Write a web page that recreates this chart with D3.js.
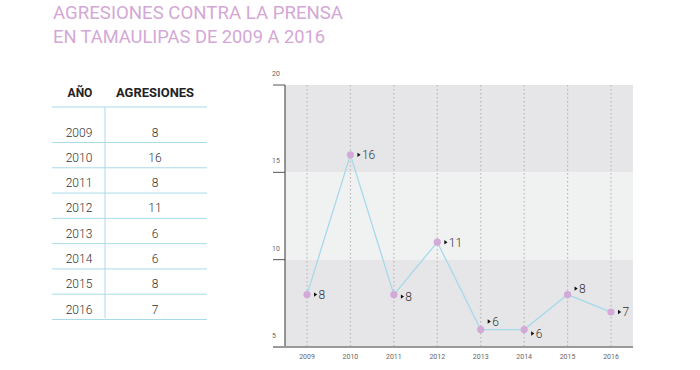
<!DOCTYPE html>
<html lang="en">
<meta charset="utf-8">
<style>
body { margin: 0; background: #fff; }
svg text { font-family: Roboto, "DejaVu Sans", sans-serif; }
.title { fill: #d4a8d6; font-size: 18px; font-weight: 400; }
.th { fill: #222; font-size: 12px; font-weight: 700; }
.td { fill: #333; font-size: 12px; font-weight: 300; }
.tick-lbl { fill: #666; font-size: 7px; }
.pt-lbl { fill: #333; font-size: 12px; font-weight: 300; }
</style>
<body>
<script src="https://d3js.org/d3.v7.min.js"></script>
<script>
// data
var years = ["2009", "2010", "2011", "2012", "2013", "2014", "2015", "2016"];
var agresiones = [8, 16, 8, 11, 6, 6, 8, 7];
var yTicks = [5, 10, 15, 20];
var bands = [[15, 20, "#e6e6e8"], [10, 15, "#f0f1f1"], [5, 10, "#e6e6e8"]];

// label nudges (layout only)
var labelDy = [0, 0, 2, 0, -8, 4, -6, 0];

var svg = d3.select("body").append("svg")
    .attr("width", 700)
    .attr("height", 370);

// title
svg.append("text").attr("class", "title")
    .attr("x", 53).attr("y", 19)
    .attr("textLength", 290).attr("lengthAdjust", "spacingAndGlyphs")
    .text("AGRESIONES CONTRA LA PRENSA");
svg.append("text").attr("class", "title")
    .attr("x", 53).attr("y", 43)
    .attr("textLength", 272).attr("lengthAdjust", "spacingAndGlyphs")
    .text("EN TAMAULIPAS DE 2009 A 2016");

// table
var rowY = d3.scaleLinear().domain([0, 7]).range([132, 309]);
var tbl = svg.append("g");
tbl.append("text").attr("class", "th").attr("x", 80).attr("y", 97)
    .attr("text-anchor", "middle").text("AÑO");
tbl.append("text").attr("class", "th").attr("x", 155).attr("y", 97)
    .attr("text-anchor", "middle")
    .attr("textLength", 78).attr("lengthAdjust", "spacingAndGlyphs")
    .text("AGRESIONES");
tbl.append("line").attr("x1", 52).attr("x2", 207).attr("y1", 107).attr("y2", 107)
    .attr("stroke", "#a9daea");
tbl.append("line").attr("x1", 105).attr("x2", 105).attr("y1", 107).attr("y2", 318)
    .attr("stroke", "#a9daea");
years.forEach(function(yr, i) {
  var cy = rowY(i);
  tbl.append("text").attr("class", "td").attr("x", 79).attr("y", cy + 4.5)
      .attr("text-anchor", "middle").text(yr);
  tbl.append("text").attr("class", "td").attr("x", 155).attr("y", cy + 4.5)
      .attr("text-anchor", "middle").text(agresiones[i]);
  tbl.append("line").attr("x1", 52).attr("x2", 207)
      .attr("y1", cy + 10.5).attr("y2", cy + 10.5)
      .attr("stroke", "#a9daea");
});

// chart
var x = d3.scalePoint().domain(years).range([307, 611]);
var y = d3.scaleLinear().domain([5, 20]).range([347, 85]);
var left = 285, right = 633;

svg.selectAll(".band").data(bands).enter().append("rect")
    .attr("x", left).attr("width", right - left)
    .attr("y", function(d) { return y(d[1]); })
    .attr("height", function(d) { return y(d[0]) - y(d[1]); })
    .attr("fill", function(d) { return d[2]; });

svg.selectAll(".grid").data(years).enter().append("line")
    .attr("x1", function(d) { return x(d); }).attr("x2", function(d) { return x(d); })
    .attr("y1", y(20)).attr("y2", y(5))
    .attr("stroke", "#b8b8b8").attr("stroke-width", 1.2)
    .attr("stroke-dasharray", "1.5,2.5");

// y axis
svg.append("line").attr("x1", left).attr("x2", left).attr("y1", y(20)).attr("y2", y(5))
    .attr("stroke", "#555").attr("stroke-width", 1.2);
svg.selectAll(".ytick").data(yTicks).enter().append("line")
    .attr("x1", 273).attr("x2", left)
    .attr("y1", function(d) { return y(d); }).attr("y2", function(d) { return y(d); })
    .attr("stroke", "#555").attr("stroke-width", 1);
svg.selectAll(".ylbl").data(yTicks).enter().append("text")
    .attr("class", "tick-lbl")
    .attr("x", 272).attr("y", function(d) { return y(d) - 9; })
    .text(function(d) { return d; });

// x axis
svg.append("line").attr("x1", 273).attr("x2", right).attr("y1", y(5)).attr("y2", y(5))
    .attr("stroke", "#999").attr("stroke-width", 1.8);
svg.selectAll(".xlbl").data(years).enter().append("text")
    .attr("class", "tick-lbl")
    .attr("x", function(d) { return x(d); }).attr("y", 359)
    .attr("text-anchor", "middle")
    .text(function(d) { return d; });

// line and points
var line = d3.line()
    .x(function(d, i) { return x(years[i]); })
    .y(function(d) { return y(d); });
svg.append("path").datum(agresiones)
    .attr("d", line)
    .attr("fill", "none")
    .attr("stroke", "#a6d9ea")
    .attr("stroke-width", 1.3);

svg.selectAll(".pt").data(agresiones).enter().append("circle")
    .attr("cx", function(d, i) { return x(years[i]); })
    .attr("cy", function(d) { return y(d); })
    .attr("r", 3.6)
    .attr("fill", "#d3a9d7");

var lbl = svg.selectAll(".lbl").data(agresiones).enter().append("g")
    .attr("transform", function(d, i) {
      return "translate(" + (x(years[i]) + 7) + "," + (y(d) + labelDy[i]) + ")";
    });
lbl.append("path").attr("d", "M0,-2.2L3.2,0L0,2.2Z").attr("fill", "#111");
lbl.append("text").attr("class", "pt-lbl")
    .attr("x", 4.5).attr("y", 4.3)
    .text(function(d) { return d; });
</script>
</body>
</html>
